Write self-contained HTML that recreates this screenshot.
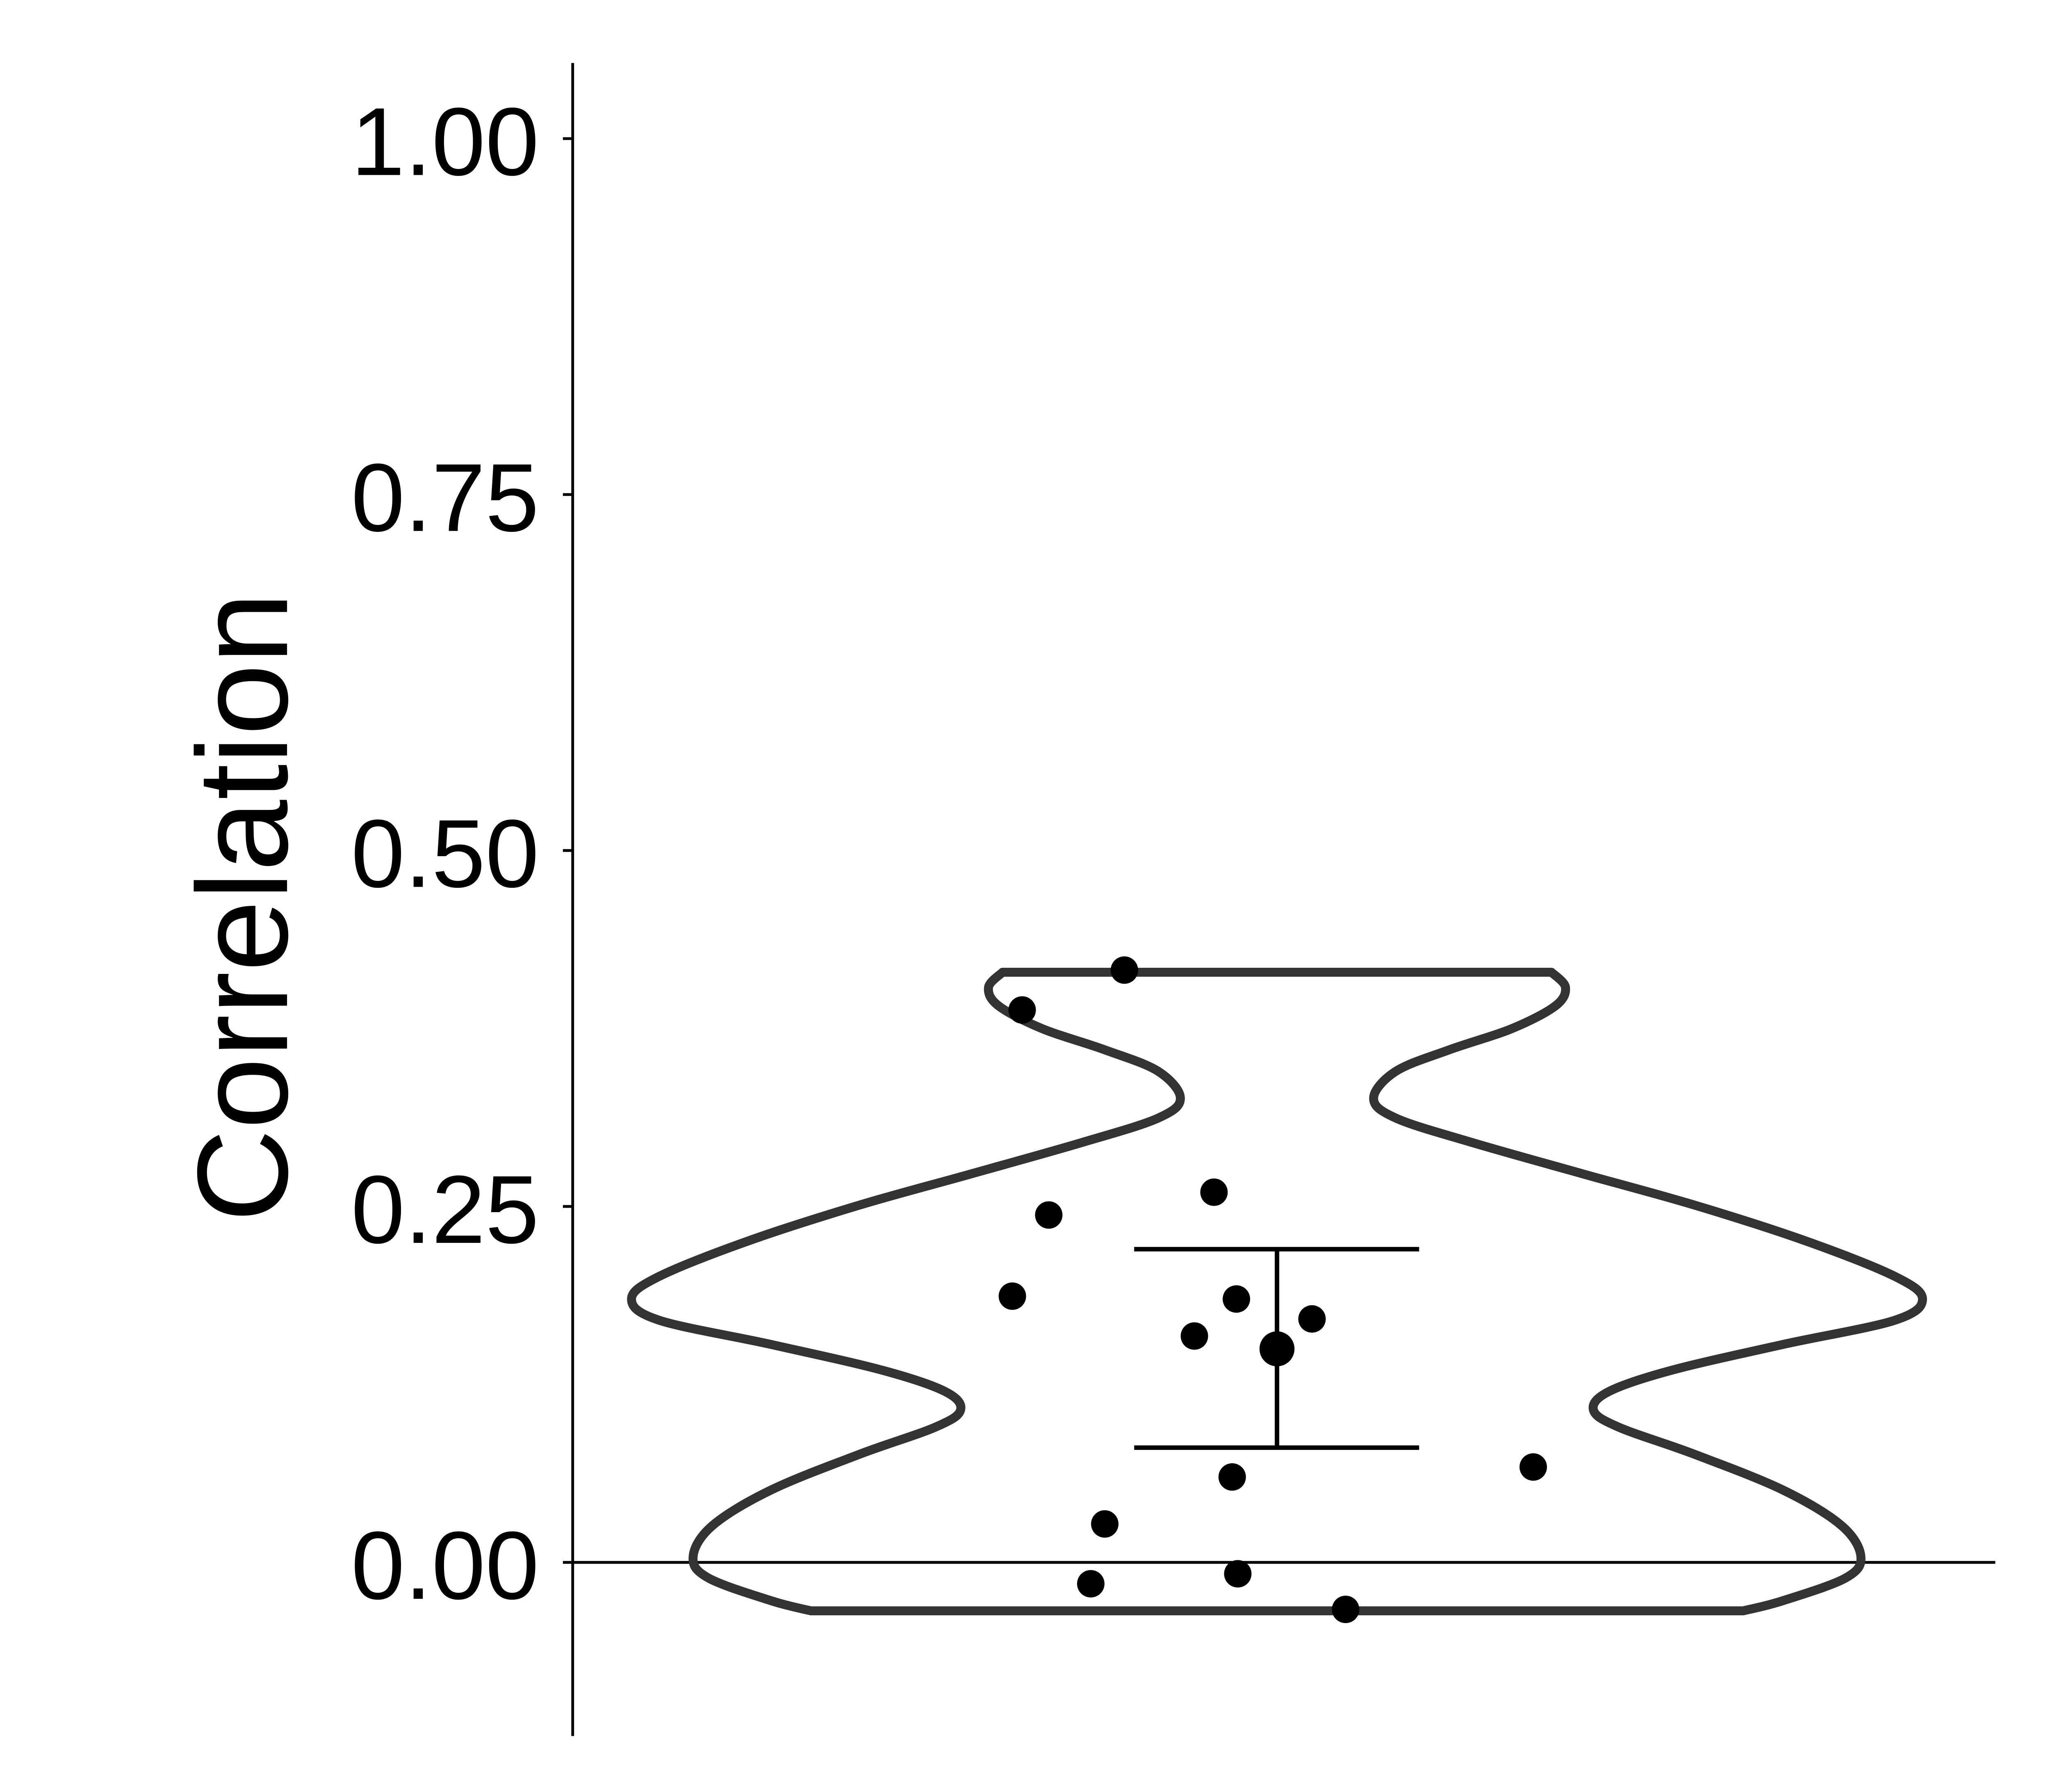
<!DOCTYPE html>
<html><head><meta charset="utf-8"><style>html,body{margin:0;padding:0;background:#fff}svg{display:block}</style></head>
<body>
<svg id="chart" width="5314" height="4370" viewBox="0 0 1556 1280" preserveAspectRatio="none" xmlns="http://www.w3.org/2000/svg">
<g id="g"></g>
</svg>
<script>
const ticks=[0,0.25,0.5,0.75,1];
const tickLabels=["0.00","0.25","0.50","0.75","1.00"];
const violinY=[0.4145,0.404,0.391,0.375,0.360,0.345,0.326,0.312,0.295,0.273,0.251,0.226,0.201,0.185,0.170,0.153,0.135,0.120,0.107,0.095,0.076,0.051,0.026,0.004,-0.011,-0.027,-0.034];
const violinW=[196,206,199,168,123,85,69,85,139,218,298,377,441,461,441,361,282,237,226,244,298,361,403,417,406,361,333];
const pointVals=[0.416,0.388,0.260,0.244,0.187,0.185,0.159,0.060,0.027,-0.015,-0.008,0.171,0.067,-0.033];
const pointX=[803,730,867,749,723,883,853,880,789,779,884,937,1095,961];
const meanVal=0.150, errHi=0.220, errLo=0.0806;
const cx=912;
const y=v=>1116-v*1017;
const NS="http://www.w3.org/2000/svg";
const g=document.getElementById('g');
function mk(t,a){const e=document.createElementNS(NS,t);for(const k in a)e.setAttribute(k,a[k]);g.appendChild(e);return e;}
let e=mk('line',{x1:409,y1:45,x2:409,y2:1240,stroke:'#000','stroke-width':2});


e=mk('line',{x1:409,y1:y(0),x2:1425,y2:y(0),stroke:'#000','stroke-width':2});


ticks.forEach((t,i)=>{
 let l=mk('line',{x1:402,y1:y(t),x2:409,y2:y(t),stroke:'#000','stroke-width':2});
 
 
 let tx=mk('text',{x:385,y:y(t)+26,'text-anchor':'end','font-family':'Liberation Sans, sans-serif','font-size':69,fill:'#000'});
 tx.textContent=tickLabels[i];
 
 
});
e=mk('text',{x:0,y:0,transform:'translate(205,648) rotate(-90)','text-anchor':'middle','font-family':'Liberation Sans, sans-serif','font-size':92,fill:'#000'});
e.textContent='Correlation';


let right=violinY.map((v,i)=>[cx+violinW[i],y(v)]);
let left=violinY.map((v,i)=>[cx-violinW[i],y(v)]).reverse();
function smooth(pts){let d='M'+pts[0][0]+','+pts[0][1];for(let i=0;i<pts.length-1;i++){const p0=pts[i-1]||pts[i],p1=pts[i],p2=pts[i+1],p3=pts[i+2]||p2;d+=' C'+(p1[0]+(p2[0]-p0[0])/6)+','+(p1[1]+(p2[1]-p0[1])/6)+' '+(p2[0]-(p3[0]-p1[0])/6)+','+(p2[1]-(p3[1]-p1[1])/6)+' '+p2[0]+','+p2[1];}return d;}
let d=smooth(right)+' L'+left[0][0]+','+left[0][1]+smooth(left).replace(/^M[^C]*/,'')+' Z';
e=mk('path',{d:d,fill:'none',stroke:'#333','stroke-width':6.4,'stroke-linejoin':'round'});


pointVals.forEach((v,i)=>{
 let c=mk('circle',{cx:pointX[i],cy:y(v),r:9.8,fill:'#000'});
 
 
});
e=mk('line',{x1:cx,y1:y(errHi),x2:cx,y2:y(errLo),stroke:'#000','stroke-width':3.2});


[errHi,errLo].forEach(v=>{let c=mk('line',{x1:810,y1:y(v),x2:1013.5,y2:y(v),stroke:'#000','stroke-width':3.2});
 
 });
e=mk('circle',{cx:cx,cy:y(meanVal),r:12.5,fill:'#000'});


</script>
</body></html>
